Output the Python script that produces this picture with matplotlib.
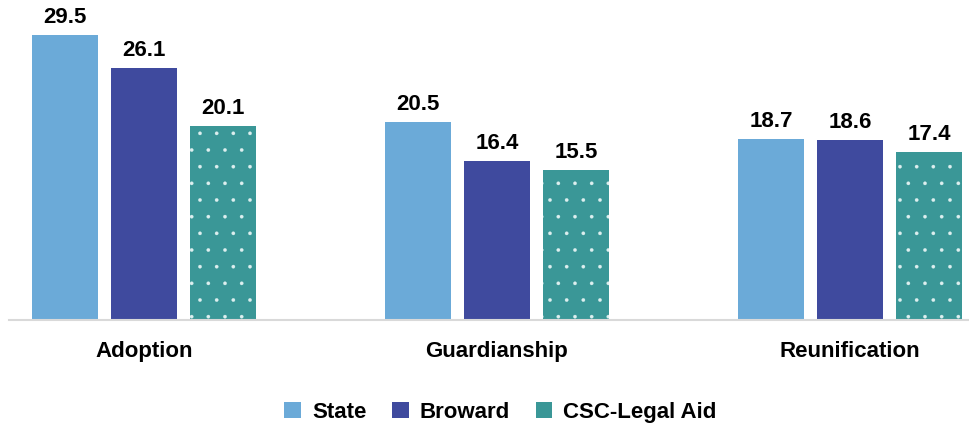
import matplotlib.pyplot as plt
import numpy as np

plt.rcParams["font.family"] = ["Liberation Sans", "DejaVu Sans"]
plt.rcParams["hatch.linewidth"] = 0.2

categories = ["Adoption", "Guardianship", "Reunification"]
series = ["State", "Broward", "CSC-Legal Aid"]
state = [29.5, 20.5, 18.7]
broward = [26.1, 16.4, 18.6]
csc = [20.1, 15.5, 17.4]

colors = ["#6BAAD8", "#3F4A9E", "#3A9797"]

fig = plt.figure(figsize=(9.7, 4.24), dpi=100)
ax = fig.add_axes([0.0093, 0.2453, 0.9907, 0.7547])

x = np.arange(len(categories))
width = 0.187
offset = 0.224

for i, (vals, name) in enumerate(zip([state, broward, csc], series)):
    pos = x + (i - 1) * offset
    if i == 2:
        bars = ax.bar(pos, vals, width, color=colors[i], label=name,
                      hatch=".", edgecolor="#DDEFEF", linewidth=0)
    else:
        bars = ax.bar(pos, vals, width, color=colors[i], label=name, linewidth=0)
    for b, v in zip(bars, vals):
        ax.annotate(f"{v:.1f}", (b.get_x() + b.get_width() / 2, v),
                    xytext=(0, 7), textcoords="offset pixels",
                    ha="center", va="bottom", fontsize=16, fontweight="bold")

ax.set_xlim(-0.382, 2.34)
ax.set_ylim(0, 33.1)
ax.set_xticks(x)
ax.set_xticklabels(categories, fontsize=16, fontweight="bold")
ax.tick_params(axis="x", length=0, pad=15)
ax.set_yticks([])
for s in ["top", "right", "left"]:
    ax.spines[s].set_visible(False)
ax.spines["bottom"].set_color("#D9D9D9")
ax.spines["bottom"].set_linewidth(1.5)

leg = fig.legend(loc="lower center", bbox_to_anchor=(0.516, -0.045), ncol=3,
                 frameon=False, prop={"size": 16, "weight": "bold"},
                 handlelength=0.75, handleheight=0.75, handletextpad=0.5,
                 columnspacing=1.15)
leg.legend_handles[2].set_hatch(None)

fig.savefig("out.png", dpi=100)
